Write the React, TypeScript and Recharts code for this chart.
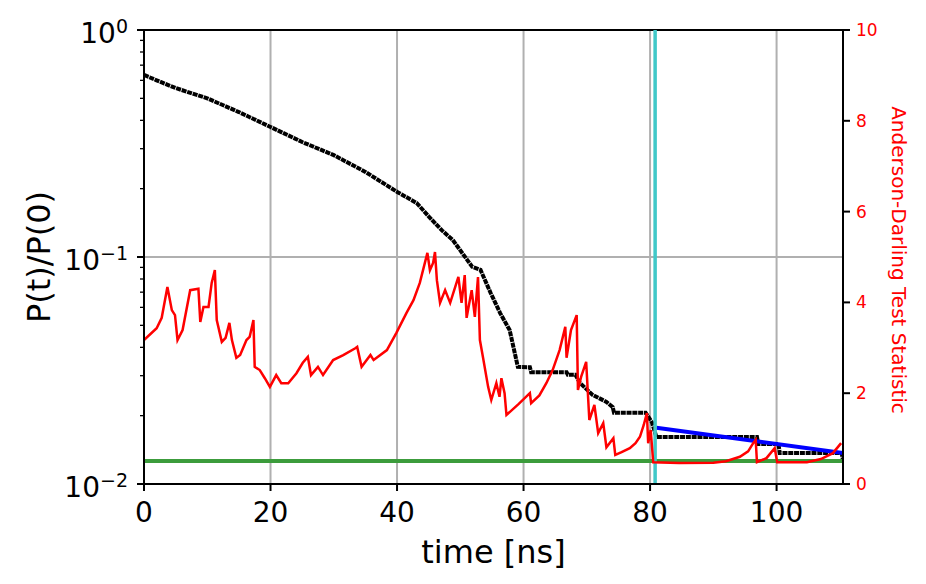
import React from 'react';
import { LineChart, Line, XAxis, YAxis, CartesianGrid, ReferenceLine } from 'recharts';

const FONT = '"DejaVu Sans", sans-serif';

// P(t)/P(0) (left, log axis)
const survTime = [0, 2, 5, 10, 15, 20, 25, 30, 35, 40.1, 43.1, 45.1, 47.1, 48.8, 51.9, 53.2, 54.8, 56.3, 57.8, 59.1, 61.0, 61.2, 66.8, 67.0, 68.2, 68.9, 70.9, 73.1, 74.1, 74.3, 79.3, 80.3, 81.0, 96.9, 97.1, 100.3, 100.5, 110.3, 110.5];
const survProb = [0.634, 0.600, 0.555, 0.500, 0.435, 0.374, 0.321, 0.281, 0.237, 0.193, 0.173, 0.150, 0.131, 0.119, 0.0904, 0.0877, 0.0694, 0.0566, 0.0477, 0.0328, 0.0327, 0.0311, 0.0311, 0.0303, 0.0303, 0.0279, 0.0247, 0.0230, 0.0218, 0.0206, 0.0206, 0.0187, 0.0161, 0.0161, 0.0150, 0.0150, 0.0137, 0.0137, 0.0127];

// blue fit after the cutoff
const fitTime = [81.0, 110.5];
const fitProb = [0.0177, 0.0137];

// Anderson-Darling statistic (right axis)
const adTime = [0, 2.0, 2.8, 3.7, 4.4, 4.9, 5.3, 6.1, 7.3, 8.6, 8.9, 9.4, 10.2, 10.7, 11.2, 11.5, 12.3, 12.9, 13.5, 13.9, 14.6, 15.2, 16.2, 16.7, 17.3, 17.5, 18.3, 19.1, 19.9, 20.9, 21.7, 22.8, 24.1, 25.1, 25.9, 26.4, 27.5, 28.3, 29.9, 31.5, 33.4, 33.7, 34.4, 35.8, 36.3, 38.4, 39.9, 41.5, 42.6, 43.6, 44.4, 44.8, 45.2, 45.7, 46.0, 46.3, 46.8, 47.6, 48.4, 49.2, 49.7, 50.2, 50.7, 51.0, 51.8, 52.3, 52.8, 53.1, 53.6, 54.4, 54.9, 55.7, 56.2, 56.5, 57.0, 57.3, 59.2, 61.0, 61.2, 62.5, 63.6, 64.6, 65.7, 66.6, 66.8, 67.5, 68.4, 68.6, 69.1, 69.9, 70.4, 71.2, 71.8, 72.6, 73.1, 74.2, 74.5, 75.5, 76.8, 77.7, 78.4, 79.0, 79.5, 79.7, 80.1, 80.5, 84.6, 90.0, 92.0, 94.2, 95.5, 96.3, 96.7, 96.9, 98.4, 99.7, 100.1, 104.8, 107.0, 108.9, 110.2];
const adStat = [3.17, 3.43, 3.66, 4.34, 3.83, 3.72, 3.17, 3.39, 4.27, 4.30, 3.57, 3.90, 3.90, 4.43, 4.71, 3.61, 3.13, 3.22, 3.55, 3.17, 2.78, 2.84, 3.17, 3.24, 3.61, 2.58, 2.51, 2.33, 2.14, 2.40, 2.22, 2.22, 2.44, 2.67, 2.80, 2.40, 2.58, 2.40, 2.73, 2.84, 2.99, 3.02, 2.58, 2.84, 2.73, 2.95, 3.33, 3.77, 4.05, 4.43, 4.87, 5.09, 4.71, 4.87, 5.11, 4.49, 3.99, 4.27, 3.99, 4.34, 4.56, 3.99, 4.60, 3.66, 4.27, 3.68, 4.56, 3.17, 2.78, 2.14, 1.85, 2.22, 1.92, 2.33, 2.00, 1.52, 1.76, 2.00, 1.78, 1.95, 2.22, 2.51, 2.95, 3.46, 2.78, 3.39, 3.72, 2.07, 2.36, 2.69, 1.41, 1.74, 1.12, 1.34, 0.81, 1.01, 0.64, 0.70, 0.79, 0.90, 1.04, 1.30, 1.56, 0.90, 1.19, 0.48, 0.46, 0.47, 0.50, 0.60, 0.72, 0.90, 0.97, 0.48, 0.57, 0.79, 0.48, 0.48, 0.55, 0.68, 0.90];

const cutoffTime = 80.8;
const noiseLevel = 0.01262;

const xTicks = [0, 20, 40, 60, 80, 100];
const logTicks = [0.01, 0.02, 0.03, 0.04, 0.05, 0.06, 0.07, 0.08, 0.09, 0.1, 0.2, 0.3, 0.4, 0.5, 0.6, 0.7, 0.8, 0.9, 1];
const logLabels: { [v: string]: string } = { '1': '0', '0.1': '\u22121', '0.01': '\u22122' };
const adTicks = [0, 2, 4, 6, 8, 10];

const survData = survTime.map((t, i) => ({ t, p: survProb[i] }));
const fitData = fitTime.map((t, i) => ({ t, p: fitProb[i] }));
const adData = adTime.map((t, i) => ({ t, a: adStat[i] }));
const cutoffData = [{ t: cutoffTime, p: 0.01 }, { t: cutoffTime, p: 1 }];
const noiseData = [{ t: 0, p: noiseLevel }, { t: 110.5, p: noiseLevel }];

const LogTick = ({ x, y, payload }: any) => {
    const exp = logLabels[String(payload.value)];
    const major = exp !== undefined;
    return (
        <g>
            <line x1={x - (major ? 7 : 4)} x2={x} y1={y} y2={y} stroke="#000" strokeWidth={major ? 2 : 1.3} />
            {major && (
                <text x={x - 16} y={y + 13} textAnchor="end" fontSize={28} fontFamily={FONT} fill="#000">
                    10<tspan dy={-10} fontSize={19}>{exp}</tspan>
                </text>
            )}
        </g>
    );
};

const LeftTitle = ({ viewBox }: any) => {
    const cx = viewBox.x + 50;
    const cy = viewBox.y + viewBox.height / 2;
    return (
        <text x={cx} y={cy} transform={`rotate(-90 ${cx} ${cy})`} textAnchor="middle" fontSize={32} fontFamily={FONT} fill="#000">
            P(t)/P(0)
        </text>
    );
};

const RightTitle = ({ viewBox }: any) => {
    const cx = viewBox.x + 49;
    const cy = viewBox.y + viewBox.height / 2 + 3;
    return (
        <text x={cx} y={cy} transform={`rotate(90 ${cx} ${cy})`} textAnchor="middle" fontSize={20} fontFamily={FONT} fill="#ff0000">
            Anderson-Darling Test Statistic
        </text>
    );
};

export default function App() {
    return (
        <div style={{ position: 'absolute', left: 0, top: 0, background: '#fff', fontFamily: FONT }}>
            <LineChart width={926} height={584} margin={{ top: 30, right: 0, bottom: 0, left: 0 }}>
                <CartesianGrid yAxisId="left" horizontal={false} stroke="#b0b0b0" strokeWidth={2} />
                <XAxis
                    dataKey="t"
                    type="number"
                    domain={[0, 110.5]}
                    ticks={xTicks}
                    interval={0}
                    allowDataOverflow
                    height={100}
                    axisLine={{ stroke: '#000', strokeWidth: 2 }}
                    tickLine={{ stroke: '#000', strokeWidth: 2 }}
                    tickSize={7}
                    tickMargin={11}
                    tick={{ fill: '#000', fontSize: 28, fontFamily: FONT }}
                    label={{ value: 'time [ns]', position: 'insideBottom', offset: 21, fontSize: 32, fill: '#000', fontFamily: FONT }}
                />
                <YAxis
                    yAxisId="left"
                    scale="log"
                    domain={[0.01, 1]}
                    ticks={logTicks}
                    interval={0}
                    allowDataOverflow
                    width={144}
                    axisLine={{ stroke: '#000', strokeWidth: 2 }}
                    tickLine={false}
                    tickSize={0}
                    tickMargin={0}
                    tick={<LogTick />}
                    label={<LeftTitle />}
                />
                <YAxis
                    yAxisId="right"
                    orientation="right"
                    domain={[0, 10]}
                    ticks={adTicks}
                    interval={0}
                    allowDataOverflow
                    width={83}
                    axisLine={{ stroke: '#000', strokeWidth: 2 }}
                    tickLine={{ stroke: '#000', strokeWidth: 2 }}
                    tickSize={7}
                    tickMargin={6}
                    tick={{ fill: '#ff0000', fontSize: 17, fontFamily: FONT }}
                    label={<RightTitle />}
                />
                <ReferenceLine yAxisId="left" y={0.1} stroke="#b0b0b0" strokeWidth={2} />
                <ReferenceLine yAxisId="left" y={1} stroke="#000" strokeWidth={2} />
                <Line yAxisId="left" data={survData} dataKey="p" type="linear" stroke="#000" strokeWidth={4} strokeDasharray="5 0.8" dot={false} isAnimationActive={false} />
                <Line yAxisId="left" data={fitData} dataKey="p" type="linear" stroke="#0000ff" strokeWidth={4} dot={false} isAnimationActive={false} />
                <Line yAxisId="left" data={noiseData} dataKey="p" type="linear" stroke="#3c9c3c" strokeWidth={4} dot={false} isAnimationActive={false} />
                <Line yAxisId="left" data={cutoffData} dataKey="p" type="linear" stroke="#40c8c8" strokeWidth={3.5} dot={false} isAnimationActive={false} />
                <Line yAxisId="right" data={adData} dataKey="a" type="linear" stroke="#ff0000" strokeWidth={2.5} dot={false} isAnimationActive={false} />
            </LineChart>
        </div>
    );
}
